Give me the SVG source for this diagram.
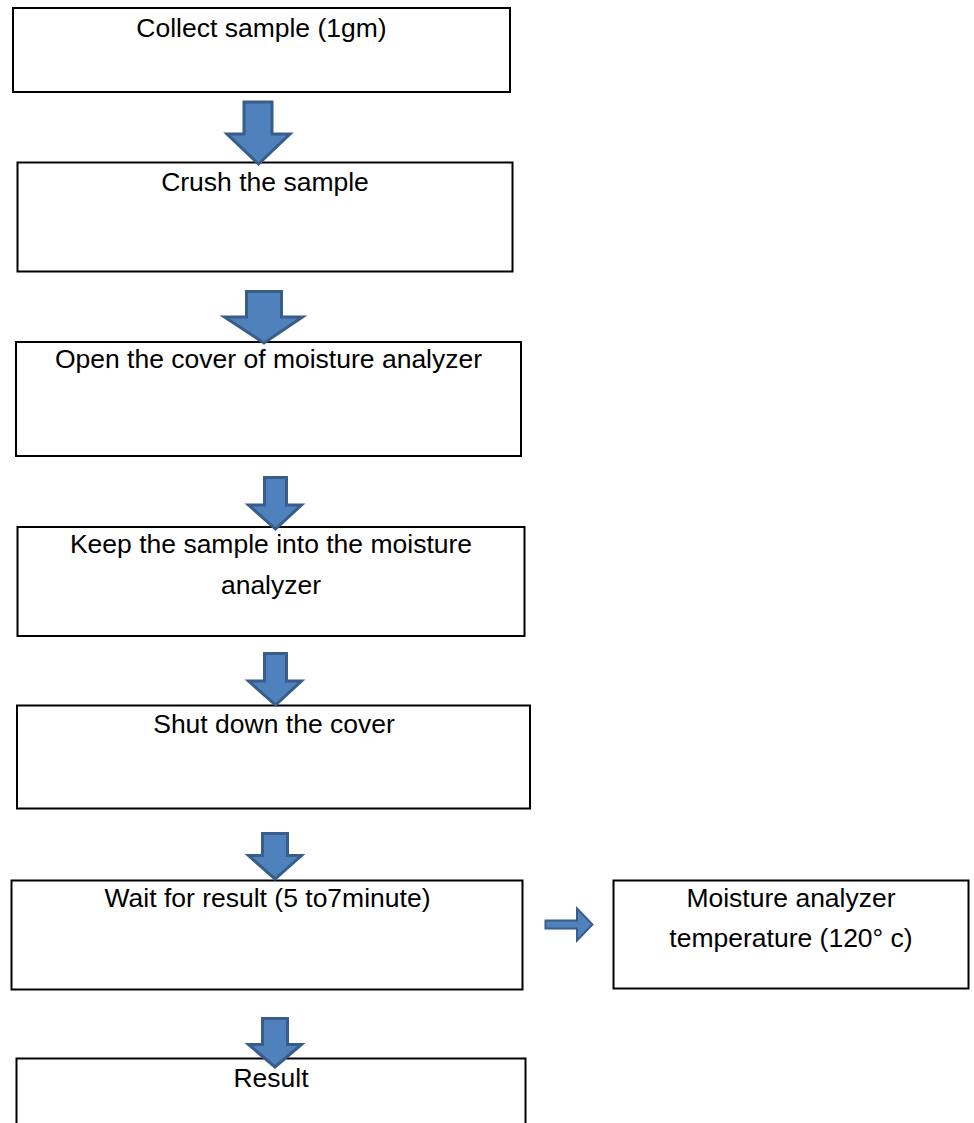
<svg xmlns="http://www.w3.org/2000/svg" width="974" height="1123" viewBox="0 0 974 1123">
<style>
.box{fill:#ffffff;stroke:#000000;stroke-width:2}
.arr{fill:#4F81BD;stroke:#385D8A;stroke-width:3;stroke-linejoin:miter}
.t{font-family:"Liberation Sans",Arial,sans-serif;font-size:26.5px;fill:#000000;text-anchor:middle}
</style>
<rect width="974" height="1123" fill="#ffffff"/>
<g id="n1"><rect class="box" x="13" y="8" width="497" height="84"/><text class="t" x="261.5" y="37">Collect sample (1gm)</text></g>
<g id="n2"><rect class="box" x="17.5" y="162.5" width="495" height="109"/><text class="t" x="265" y="191">Crush the sample</text></g>
<g id="n3"><rect class="box" x="16" y="342" width="505" height="114"/><text class="t" x="268.5" y="368">Open the cover of moisture analyzer</text></g>
<g id="n4"><rect class="box" x="17.5" y="527" width="507" height="109"/><text class="t" x="271" y="553">Keep the sample into the moisture</text><text class="t" x="271" y="594">analyzer</text></g>
<g id="n5"><rect class="box" x="17" y="705.5" width="513" height="103"/><text class="t" x="274" y="733">Shut down the cover</text></g>
<g id="n6"><rect class="box" x="11.5" y="880.5" width="511" height="109"/><text class="t" x="267.5" y="907">Wait for result (5 to7minute)</text></g>
<g id="n7"><rect class="box" x="16.5" y="1058.5" width="509" height="80"/><text class="t" x="271" y="1087">Result</text></g>
<g id="n8"><rect class="box" x="613.5" y="880.5" width="355" height="108"/><text class="t" x="791" y="907">Moisture analyzer</text><text class="t" x="791" y="947">temperature (120° c)</text></g>
<g id="connectors">
<path class="arr" d="M244,102 H272 V134 H290 L258.5,164 L227,134 H244 Z"/>
<path class="arr" d="M246.5,291.5 H281.5 V317 H302.5 L264,343 L224.5,317 H246.5 Z"/>
<path class="arr" d="M264.5,477.5 H286.5 V505 H301.5 L275.5,529 L248.5,505 H264.5 Z"/>
<path class="arr" d="M264.5,653.5 H286.5 V681 H301.5 L275.5,705 L248.5,681 H264.5 Z"/>
<path class="arr" d="M262.5,833.5 H287.5 V855.5 H301.5 L275,879 L248.5,855.5 H262.5 Z"/>
<path class="arr" d="M262.5,1018.5 H287.5 V1044.5 H301.5 L275,1067 L248.5,1044.5 H262.5 Z"/>
<path class="arr" d="M545.5,920.5 H577 V908.5 L592.5,924.5 L577,940.5 V928.5 H545.5 Z" style="stroke-width:2"/>
</g>
</svg>
